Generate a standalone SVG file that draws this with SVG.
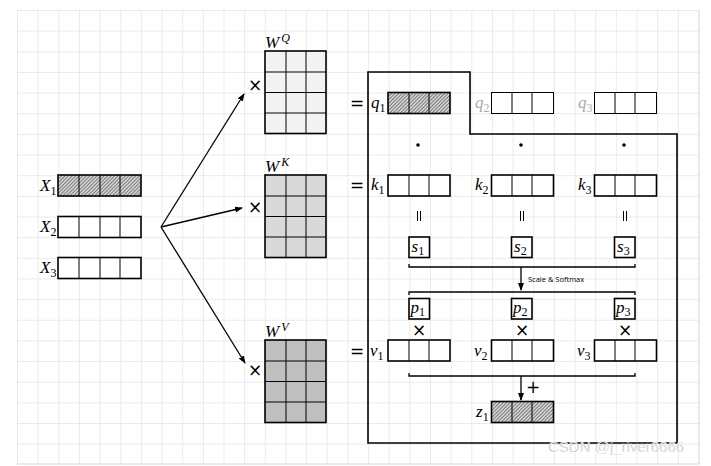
<svg xmlns="http://www.w3.org/2000/svg" width="711" height="466" viewBox="0 0 711 466">
<defs>
<pattern id="grid" x="17" y="10" width="20.65" height="20.65" patternUnits="userSpaceOnUse">
<path d="M0,0 H20.65 M0,0 V20.65" stroke="#d8d8d8" stroke-width="1" fill="none"/>
</pattern>
<pattern id="hatch" width="2.5" height="2.5" patternUnits="userSpaceOnUse" patternTransform="rotate(45)">
<rect width="2.5" height="2.5" fill="#d0d0d0"/>
<line x1="0" y1="0" x2="0" y2="2.5" stroke="#444" stroke-width="1.1"/>
</pattern>
<marker id="ah" markerWidth="8" markerHeight="8" refX="7" refY="4" orient="auto" markerUnits="userSpaceOnUse">
<path d="M0,1 L8,4 L0,7 Z" fill="#000"/>
</marker>
<style>
.cell{stroke:#000;stroke-width:1;fill:none}
.box{stroke:#000;stroke-width:1.6}
.m{font-family:"Liberation Serif",serif;font-style:italic;font-size:17px;fill:#000}
.sub{font-size:12px;font-style:normal}
.op{font-family:"DejaVu Sans",sans-serif;font-size:17px;text-anchor:middle;fill:#000}
.ln{stroke:#000;stroke-width:1.3;fill:none}
</style>
</defs>
<rect width="711" height="466" fill="#fff"/>
<rect x="17" y="10" width="682" height="454" fill="url(#grid)"/>
<path d="M17,464 H699 V10" stroke="#d8d8d8" fill="none"/>

<g id="X1"><rect x="58" y="175" width="83" height="21" fill="url(#hatch)" class="box"/><path class="cell" d="M79,175V196M100,175V196M120,175V196"/><text class="m" x="40" y="191">X<tspan class="sub" dy="4">1</tspan></text></g>
<g id="X2"><rect x="58" y="216.5" width="83" height="21" fill="#fff" class="box"/><path class="cell" d="M79,216.5V237.5M100,216.5V237.5M120,216.5V237.5"/><text class="m" x="40" y="232">X<tspan class="sub" dy="4">2</tspan></text></g>
<g id="X3"><rect x="58" y="257.5" width="83" height="21" fill="#fff" class="box"/><path class="cell" d="M79,257.5V278.5M100,257.5V278.5M120,257.5V278.5"/><text class="m" x="40" y="273">X<tspan class="sub" dy="4">3</tspan></text></g>

<g id="WQ"><rect x="265" y="51" width="61" height="82.5" fill="#f2f2f2" class="box"/><path class="cell" d="M286,51V133.5M306,51V133.5M265,72H326M265,92.5H326M265,113H326"/><text class="m" x="265" y="48">W<tspan font-size="12" dx="2" dy="-6">Q</tspan></text><text class="op" x="255" y="91">×</text></g>
<g id="WK"><rect x="265" y="175" width="61" height="82.5" fill="#d9d9d9" class="box"/><path class="cell" d="M286,175V257.5M306,175V257.5M265,196H326M265,216.5H326M265,237H326"/><text class="m" x="265" y="172">W<tspan font-size="12" dx="2" dy="-6">K</tspan></text><text class="op" x="255" y="213">×</text></g>
<g id="WV"><rect x="265" y="340" width="61" height="82.5" fill="#bfbfbf" class="box"/><path class="cell" d="M286,340V422.5M306,340V422.5M265,361H326M265,381.5H326M265,402H326"/><text class="m" x="265" y="337">W<tspan font-size="12" dx="2" dy="-6">V</tspan></text><text class="op" x="255" y="376">×</text></g>

<g id="frame"><path d="M368,72 H470 V134 H677 V443 H368 Z" fill="none" stroke="#000" stroke-width="1.6"/></g>

<g id="qrow">
<text class="op" x="357" y="109">=</text>
<text class="m" x="371" y="108">q<tspan class="sub" dy="4">1</tspan></text>
<rect x="388" y="92.5" width="62" height="21" fill="url(#hatch)" class="box"/><path class="cell" d="M409,92.5V113.5M429,92.5V113.5"/>
<text class="m" x="475" y="108" style="fill:#aaa">q<tspan class="sub" dy="4">2</tspan></text>
<rect x="491.5" y="92.5" width="62" height="21" fill="#fff" stroke="#000"/><path class="cell" d="M512,92.5V113.5M532,92.5V113.5"/>
<text class="m" x="578" y="108" style="fill:#aaa">q<tspan class="sub" dy="4">3</tspan></text>
<rect x="594.5" y="92.5" width="62" height="21" fill="#fff" stroke="#000"/><path class="cell" d="M615,92.5V113.5M635,92.5V113.5"/>
</g>
<g id="dots" fill="#000"><circle cx="418" cy="145" r="1.8"/><circle cx="521" cy="145" r="1.8"/><circle cx="624" cy="145" r="1.8"/></g>
<g id="krow">
<text class="op" x="357" y="191">=</text>
<text class="m" x="371" y="190">k<tspan class="sub" dy="4">1</tspan></text>
<rect x="388" y="175" width="62" height="21" fill="#fff" class="box"/><path class="cell" d="M409,175V196M429,175V196"/>
<text class="m" x="475" y="190">k<tspan class="sub" dy="4">2</tspan></text>
<rect x="491.5" y="175" width="62" height="21" fill="#fff" class="box"/><path class="cell" d="M512,175V196M532,175V196"/>
<text class="m" x="578" y="190">k<tspan class="sub" dy="4">3</tspan></text>
<rect x="594.5" y="175" width="62" height="21" fill="#fff" class="box"/><path class="cell" d="M615,175V196M635,175V196"/>
</g>
<g id="eqs" stroke="#000" stroke-width="1"><path d="M417.5,211V221M420.5,211V221M520.5,211V221M523.5,211V221M623.5,211V221M626.5,211V221"/></g>
<g id="s">
<rect x="409" y="237" width="20.5" height="20.5" fill="#fff" class="box"/><text class="m" x="411.5" y="252">s<tspan class="sub" dy="3">1</tspan></text>
<rect x="511.5" y="237" width="20.5" height="20.5" fill="#fff" class="box"/><text class="m" x="514" y="252">s<tspan class="sub" dy="3">2</tspan></text>
<rect x="614.5" y="237" width="20.5" height="20.5" fill="#fff" class="box"/><text class="m" x="617" y="252">s<tspan class="sub" dy="3">3</tspan></text>
</g>
<g id="p">
<rect x="409" y="298.5" width="20.5" height="20.5" fill="#fff" class="box"/><text class="m" x="410.5" y="313">p<tspan class="sub" dy="3">1</tspan></text>
<rect x="511.5" y="298.5" width="20.5" height="20.5" fill="#fff" class="box"/><text class="m" x="513" y="313">p<tspan class="sub" dy="3">2</tspan></text>
<rect x="614.5" y="298.5" width="20.5" height="20.5" fill="#fff" class="box"/><text class="m" x="616" y="313">p<tspan class="sub" dy="3">3</tspan></text>
<text class="op" x="419" y="336">×</text><text class="op" x="522" y="336">×</text><text class="op" x="625" y="336">×</text>
</g>
<g id="vrow">
<text class="op" x="357" y="357">=</text>
<text class="m" x="370" y="356">v<tspan class="sub" dy="4">1</tspan></text>
<rect x="388" y="340" width="62" height="21" fill="#fff" class="box"/><path class="cell" d="M409,340V361M429,340V361"/>
<text class="m" x="474" y="356">v<tspan class="sub" dy="4">2</tspan></text>
<rect x="491.5" y="340" width="62" height="21" fill="#fff" class="box"/><path class="cell" d="M512,340V361M532,340V361"/>
<text class="m" x="577" y="356">v<tspan class="sub" dy="4">3</tspan></text>
<rect x="594.5" y="340" width="62" height="21" fill="#fff" class="box"/><path class="cell" d="M615,340V361M635,340V361"/>
</g>
<g id="z1">
<text class="m" x="476" y="417">z<tspan class="sub" dy="4">1</tspan></text>
<rect x="491.5" y="401.5" width="62" height="21" fill="url(#hatch)" class="box"/><path class="cell" d="M512,401.5V422.5M532,401.5V422.5"/>
</g>

<g id="connectors">
<path class="ln" d="M161,227 L244,94" marker-end="url(#ah)"/>
<path class="ln" d="M161,227 L242,208" marker-end="url(#ah)"/>
<path class="ln" d="M161,227 L245,363" marker-end="url(#ah)"/>
<path class="ln" d="M409,264V267H635V264"/>
<path class="ln" d="M521,267V290" marker-end="url(#ah)"/>
<path class="ln" d="M409,295V292H635V295"/>
<path class="ln" d="M409,373V376H635V373"/>
<path class="ln" d="M521,376V400" marker-end="url(#ah)"/>
<text x="528" y="282" font-family="Open Sans,sans-serif" font-size="7.5" fill="#000">Scale &amp; Softmax</text>
<text class="op" x="533" y="393">+</text>
</g>
<text x="548" y="452" font-family="Liberation Sans,sans-serif" font-size="15" fill="#bbb" stroke="#fff" stroke-width="0.4">CSDN @j_river6666</text>
</svg>
